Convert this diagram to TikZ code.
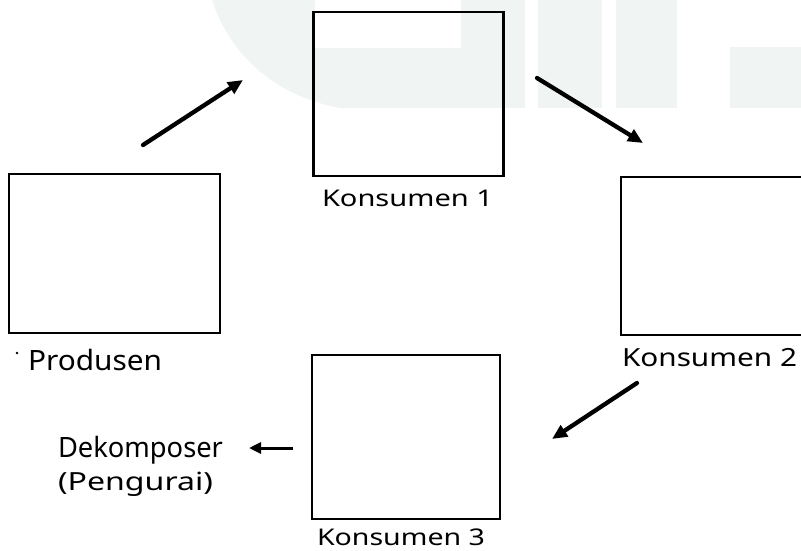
\documentclass[tikz,border=0pt]{standalone}
\usepackage{fontspec}
\setmainfont{Noto Sans}
\usetikzlibrary{arrows.meta}
\definecolor{wm}{RGB}{240,245,243}
\tikzset{
  boxnode/.style={draw=black, line width=2.8pt, inner sep=0pt, outer sep=0pt},
  flow/.style={line width=4.3pt, line cap=round, -{Triangle[length=15pt,width=13pt]}},
  thinflow/.style={line width=3pt, -{Triangle[length=12pt,width=11pt]}},
  lbl/.style={inner sep=0pt, outer sep=0pt, anchor=base west},
}
\begin{document}
\begin{tikzpicture}[x=1pt,y=-1pt]
\useasboundingbox (0,0) rectangle (801,551);
\clip (0,0) rectangle (801,551);
% faint watermark
\fill[wm] (212,0) .. controls (228,50) and (270,95) .. (340,108) -- (525,108) -- (525,0) -- cycle;
\fill[white] (315,0) rectangle (461,48);
\fill[wm] (538,0) rectangle (602,108);
\fill[wm] (616,0) rectangle (677,108);
\fill[wm] (730,47) rectangle (801,108);
% boxes
\node[boxnode, minimum width=211pt, minimum height=159pt] (prod) at (114.5,253.5) {};
\node[boxnode, minimum width=190pt, minimum height=164pt] (k1) at (408.5,94) {};
\node[boxnode, minimum width=200pt, minimum height=158pt] (k2) at (721,256) {};
\node[boxnode, minimum width=188pt, minimum height=164pt] (k3) at (406,437) {};
% labels
\node[lbl, font=\fontsize{23}{26}\selectfont] (lk1) at (322,206) {\resizebox{171pt}{\height}{Konsumen 1}};
\node[lbl, font=\fontsize{25}{28}\selectfont] (lk2) at (622,366) {\resizebox{175pt}{\height}{Konsumen 2}};
\node[lbl, font=\fontsize{23}{26}\selectfont] (lk3) at (317,545) {\resizebox{168pt}{\height}{Konsumen 3}};
\node[lbl, font=\fontsize{28}{30}\selectfont] (lprod) at (28,370) {\resizebox{134pt}{\height}{Produsen}};
\fill (17,353) circle (1.3pt);
\node[lbl, font=\fontsize{28}{30}\selectfont] (ldek) at (58,457) {\resizebox{165pt}{\height}{Dekomposer}};
\node[lbl, font=\fontsize{25}{28}\selectfont] (lpeng) at (58,490) {\resizebox{155pt}{\height}{(Pengurai)}};
% arrows
\coordinate (a1s) at (143,145); \coordinate (a1e) at (243,80);
\coordinate (a2s) at (537,78);  \coordinate (a2e) at (643,143);
\coordinate (a3s) at (637,383); \coordinate (a3e) at (552,439);
\coordinate (a4s) at (293,448); \coordinate (a4e) at (249,448);
\draw[flow] (a1s) -- (a1e);
\draw[flow] (a2s) -- (a2e);
\draw[flow] (a3s) -- (a3e);
\draw[thinflow] (a4s) -- (a4e);
\end{tikzpicture}
\end{document}
